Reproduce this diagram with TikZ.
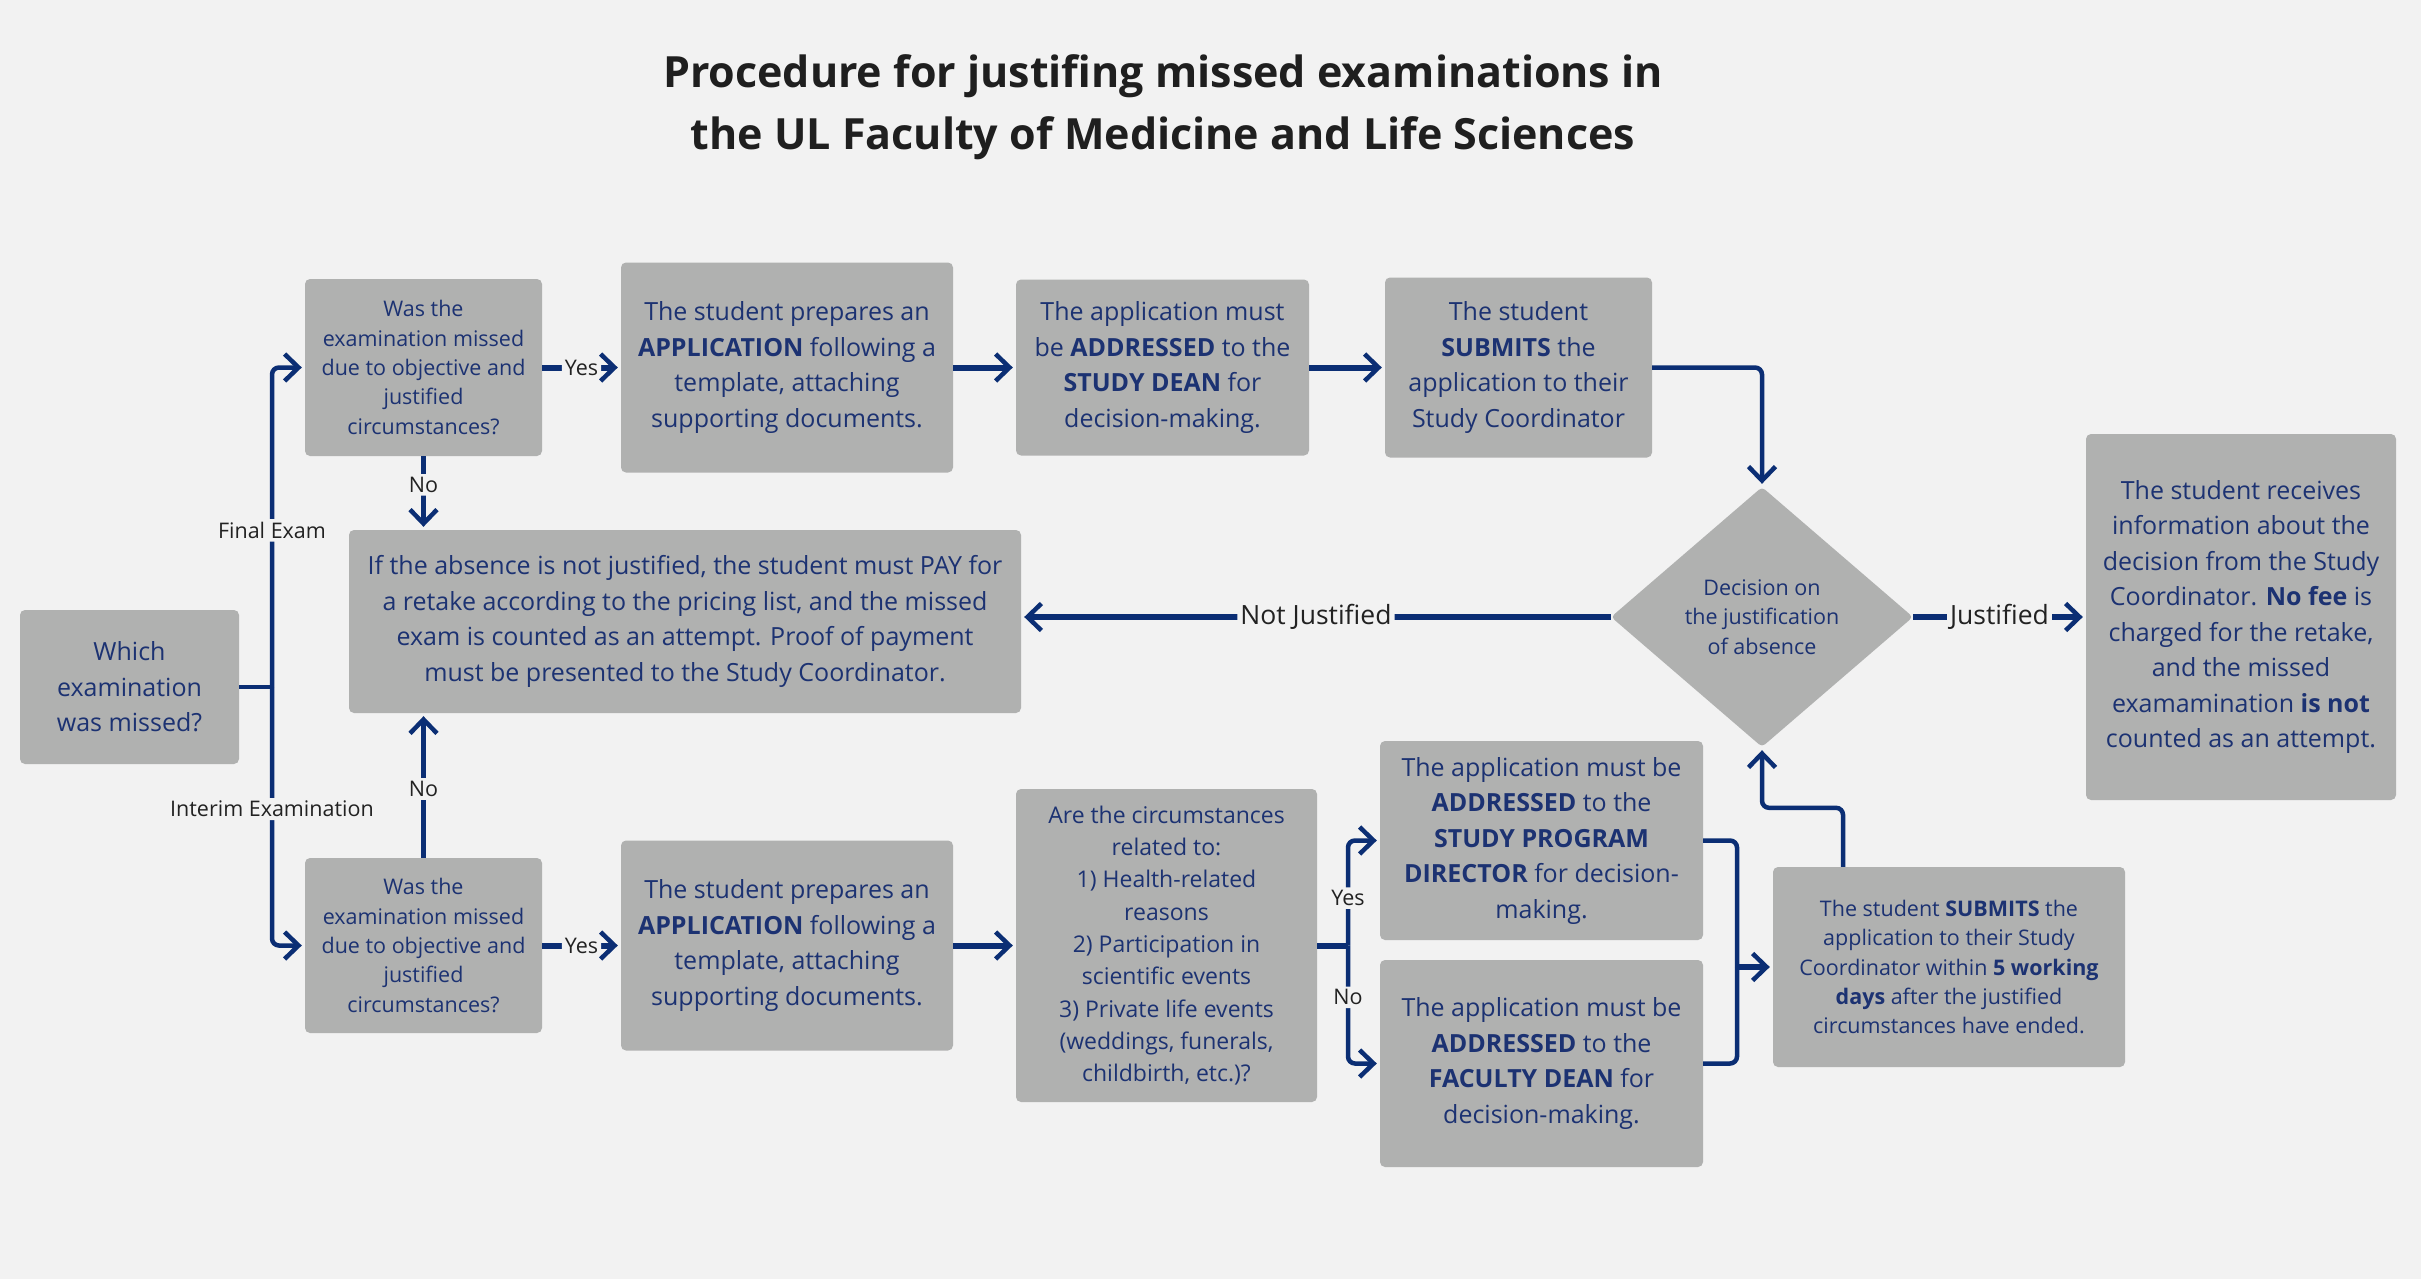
\documentclass[tikz,border=0pt]{standalone}
\usepackage{fontspec}
\setmainfont{Open Sans}
\usepackage{tikz}
\usetikzlibrary{shapes.geometric,arrows.meta}
\definecolor{bgcol}{HTML}{F2F2F2}
\definecolor{boxcol}{HTML}{B0B1B0}
\definecolor{navy}{HTML}{0B2E74}
\definecolor{txtcol}{HTML}{1C3272}
\definecolor{lblcol}{HTML}{222222}

\begin{document}
\begin{tikzpicture}[x=1pt,y=-1pt,
	box/.style={fill=boxcol,rounded corners=5pt,text=txtcol,align=center,inner sep=0pt},
	bigtxt/.style={font=\fontsize{25}{35.5}\selectfont},
	smalltxt/.style={font=\fontsize{21.5}{29.3}\selectfont},
	wire/.style={draw=navy,line width=4.5pt,rounded corners=7pt},
	conn/.style={wire,-{Straight Barb[length=14pt,width=27pt,line width=4.5pt]},shorten >=3pt},
	heavy/.style={line width=6pt},
	lbl/.style={fill=bgcol,text=lblcol,inner sep=3pt,font=\fontsize{21.5}{26}\selectfont}]
	\fill[bgcol] (0,0) rectangle (2421,1279);
	\useasboundingbox (0,0) rectangle (2421,1279);

	\node[font=\fontsize{43}{62}\selectfont\bfseries,text=black!88,align=center] (title) at (1163,107.5)
	{Procedure for justifing missed examinations in\\the UL Faculty of Medicine and Life Sciences};

	\node[box,bigtxt,minimum width=219,minimum height=154] (which) at (129.5,687)
	{Which\\examination\\was missed?};
	\node[box,smalltxt,minimum width=237,minimum height=177] (q1) at (423.5,367.5)
	{Was the\\examination missed\\due to objective and\\justified\\circumstances?};
	\node[box,bigtxt,minimum width=332,minimum height=210] (app1) at (787,367.5)
	{The student prepares an\\\textbf{APPLICATION} following a\\template, attaching\\supporting documents.};
	\node[box,bigtxt,minimum width=293,minimum height=176] (addr1) at (1162.5,367.5)
	{The application must\\be \textbf{ADDRESSED} to the\\\textbf{STUDY DEAN} for\\decision-making.};
	\node[box,bigtxt,minimum width=267,minimum height=180] (sub1) at (1518.5,367.5)
	{The student\\\textbf{SUBMITS} the\\application to their\\Study Coordinator};
	\node[diamond,fill=boxcol,rounded corners=4pt,text=txtcol,align=center,inner sep=0pt,
		minimum width=302,minimum height=260,smalltxt] (dec) at (1762,617)
	{Decision on\\the justification\\of absence};
	\node[box,bigtxt,minimum width=310,minimum height=366] (result) at (2241,617)
	{The student receives\\information about the\\decision from the Study\\Coordinator. \textbf{No fee} is\\charged for the retake,\\and the missed\\examamination \textbf{is not}\\counted as an attempt.};
	\node[box,bigtxt,minimum width=672,minimum height=183] (notj) at (685,621.5)
	{If the absence is not justified, the student must PAY for\\a retake according to the pricing list, and the missed\\exam is counted as an attempt. Proof of payment\\must be presented to the Study Coordinator.};
	\node[box,smalltxt,minimum width=237,minimum height=175] (q2) at (423.5,945.5)
	{Was the\\examination missed\\due to objective and\\justified\\circumstances?};
	\node[box,bigtxt,minimum width=332,minimum height=210] (app2) at (787,945.5)
	{The student prepares an\\\textbf{APPLICATION} following a\\template, attaching\\supporting documents.};
	\node[box,font=\fontsize{23}{32.3}\selectfont,minimum width=301,minimum height=313] (circ) at (1166.5,945.5)
	{Are the circumstances\\related to:\\1) Health-related\\reasons\\2) Participation in\\scientific events\\3) Private life events\\(weddings, funerals,\\childbirth, etc.)?};
	\node[box,bigtxt,minimum width=323,minimum height=199] (dir) at (1541.5,840.5)
	{The application must be\\\textbf{ADDRESSED} to the\\\textbf{STUDY PROGRAM}\\\textbf{DIRECTOR} for decision-\\making.};
	\node[box,bigtxt,minimum width=323,minimum height=207] (fac) at (1541.5,1063.5)
	{The application must be\\\textbf{ADDRESSED} to the\\\textbf{FACULTY DEAN} for\\decision-making.};
	\node[box,smalltxt,minimum width=352,minimum height=200] (sub2) at (1949,967)
	{The student \textbf{SUBMITS} the\\application to their Study\\Coordinator within \textbf{5 working}\\\textbf{days} after the justified\\circumstances have ended.};

	\coordinate (forkA) at (272,687);
	\coordinate (forkB) at (1348,945.5);
	\coordinate (mergeC) at (1737,967);

	\draw[wire] (which.east) -- (forkA);
	\draw[conn] (forkA) |- node[lbl,pos=0.245] {Final Exam} (q1.west);
	\draw[conn] (forkA) |- node[lbl,pos=0.236] {Interim Examination} (q2.west);
	\draw[conn,heavy] (q1.east) -- node[lbl] {Yes} (app1.west);
	\draw[conn,heavy] (q2.east) -- node[lbl] {Yes} (app2.west);
	\draw[conn] (q1.south) -- node[lbl,pos=0.39] {No} (q1.south |- notj.north);
	\draw[conn] (q2.north) -- node[lbl,pos=0.476] {No} (q2.north |- notj.south);
	\draw[conn,heavy] (app1.east) -- (addr1.west);
	\draw[conn,heavy] (addr1.east) -- (sub1.west);
	\draw[conn] (sub1.east) -| (dec.north);
	\draw[conn,heavy] (dec.west) -- node[lbl,font=\fontsize{26.5}{30}\selectfont] {Not Justified} (notj.east |- dec.west);
	\draw[conn,heavy] (dec.east) -- node[lbl,font=\fontsize{26.5}{30}\selectfont] {Justified} (result.west);
	\draw[conn,heavy] (app2.east) -- (circ.west |- app2.east);
	\draw[wire,heavy] (circ.east |- forkB) -- (forkB);
	\draw[conn] (forkB) |- node[lbl,pos=0.226] {Yes} (dir.west);
	\draw[conn] (forkB) |- node[lbl,pos=0.22] {No} (fac.west);
	\draw[wire] (dir.east) -| (mergeC);
	\draw[wire] (fac.east) -| (mergeC);
	\draw[conn,heavy] (mergeC) -- (sub2.west);
	\draw[conn] ([xshift=-106pt]sub2.north) -- ++(0,-59) -| (dec.south);
\end{tikzpicture}
\end{document}
